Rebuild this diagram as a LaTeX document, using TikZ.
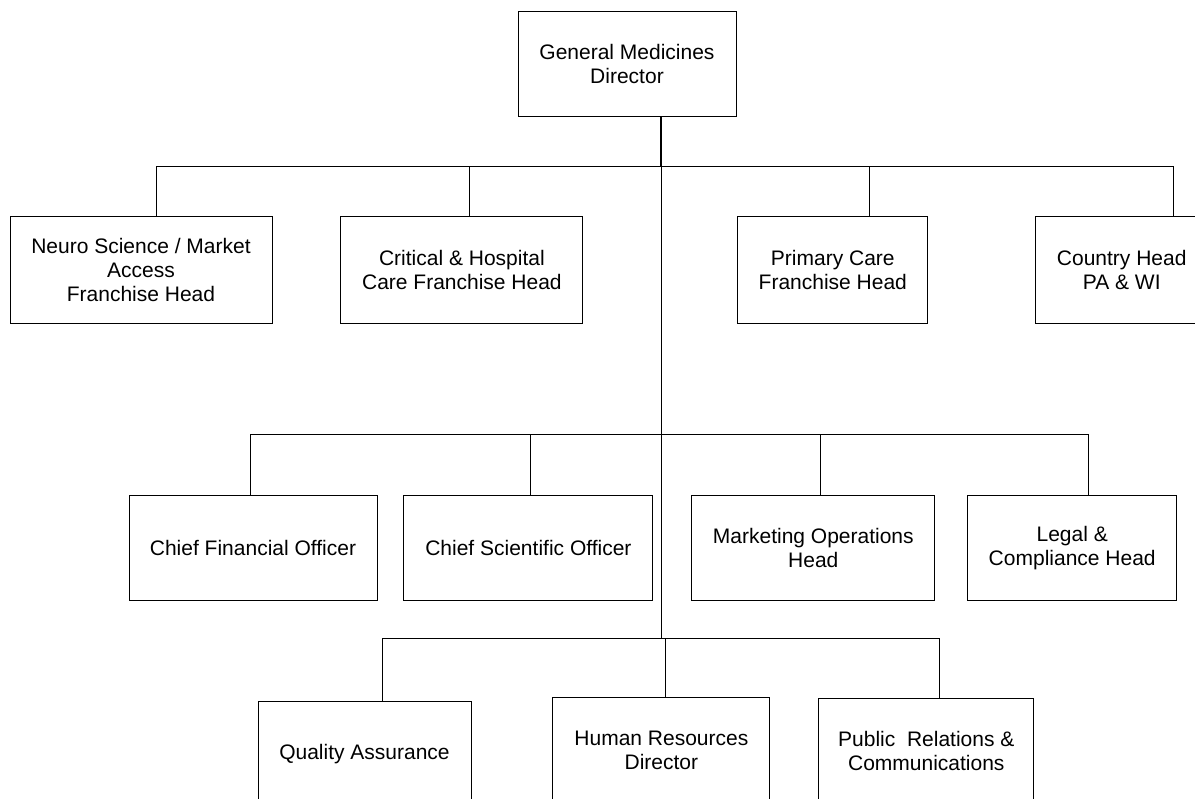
\documentclass[tikz,border=0pt]{standalone}
\usepackage{fontspec}
\setmainfont{Liberation Sans}
\usetikzlibrary{positioning}

\begin{document}
\begin{tikzpicture}[
    x=1pt, y=-1pt,
    box/.style={draw, line width=0.9pt, text centered, align=center,
    font=\fontsize{21}{24}\selectfont,
    minimum height=105pt, inner sep=2pt},
    conn/.style={draw, line width=0.8pt},
    trunk/.style={draw, line width=2.4pt},
    elbow/.style={to path={(\tikztostart) -| (\tikztotarget)}}
    ]
    \path[use as bounding box, fill=white] (0,0) rectangle (1195,799);
    \clip (0,0) rectangle (1195,799);

    \node[box, minimum width=218pt]  (gm)    at (627,63.5)                    {General Medicines\\Director};

    \node[box, minimum width=262pt, minimum height=107pt] (neuro) [below=100pt of gm, xshift=-486pt] {Neuro Science / Market\\Access\\Franchise Head};
    \node[box, minimum width=242pt, minimum height=107pt] (crit)  [right=68pt of neuro]   {Critical \& Hospital\\Care Franchise Head};
    \node[box, minimum width=190pt, minimum height=107pt] (prim)  [right=154pt of crit]   {Primary Care\\Franchise Head};
    \node[box, minimum width=172pt, minimum height=107pt] (ctry)  [right=107pt of prim]   {Country Head\\PA \& WI};

    \node[box, minimum width=248pt]  (cfo)   [below=171pt of neuro, xshift=112pt]     {Chief Financial Officer};
    \node[box, minimum width=249pt]  (cso)   [right=26pt of cfo]                      {Chief Scientific Officer};
    \node[box, minimum width=243pt]  (mkt)   [right=38pt of cso]                      {Marketing Operations\\Head};
    \node[box, minimum width=209pt]  (legal) [right=32pt of mkt]                      {Legal \&\\Compliance Head};

    \node[box, minimum width=213pt]  (qa)    [below=100pt of cfo, xshift=111.5pt]     {Quality Assurance};
    \node[box, minimum width=217pt]  (hr)    [right=81pt of qa, yshift=4pt]           {Human Resources\\Director};
    \node[box, minimum width=215pt]  (pr)    [right=48pt of hr, yshift=-1pt]          {Public~~Relations \&\\Communications};

    \coordinate (b1) at (661,166);
    \coordinate (b2) at (661,434);
    \coordinate (b3) at (661,638);

    \path[trunk] ([xshift=34pt]gm.south) -- (b1);
    \path[conn] (b1) -- (b3);

    \path[conn]
    (b1)  edge[elbow]  ([xshift=15pt]neuro.north)
    (b1)  edge[elbow]  ([xshift=7pt]crit.north)
    (b1)  edge[elbow]  ([xshift=37pt]prim.north)
    (b1)  edge[elbow]  ([xshift=52pt]ctry.north)
    (b2)  edge[elbow]  ([xshift=-3pt]cfo.north)
    (b2)  edge[elbow]  ([xshift=1.5pt]cso.north)
    (b2)  edge[elbow]  ([xshift=7.5pt]mkt.north)
    (b2)  edge[elbow]  ([xshift=16.5pt]legal.north)
    (b3)  edge[elbow]  ([xshift=17.5pt]qa.north)
    (b3)  edge[elbow]  ([xshift=3.5pt]hr.north)
    (b3)  edge[elbow]  ([xshift=13pt]pr.north)
    ;
\end{tikzpicture}
\end{document}
